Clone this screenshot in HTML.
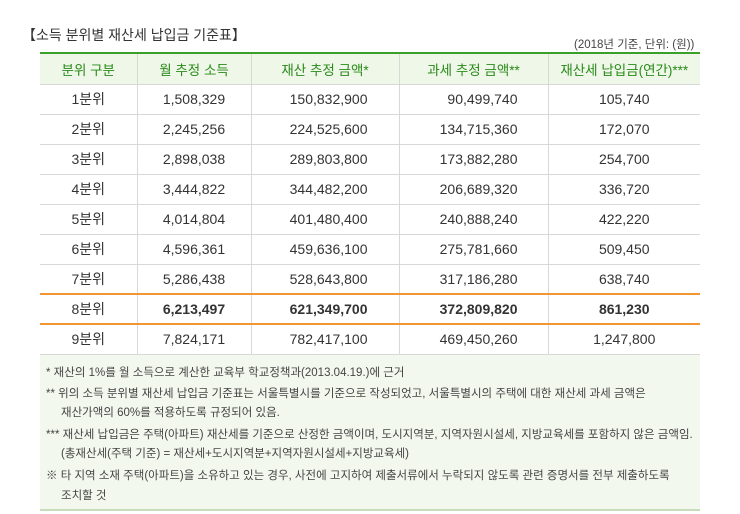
<!DOCTYPE html>
<html><head><meta charset="utf-8"><style>
body{margin:0;width:740px;height:514px;background:#fff;font-family:"Liberation Sans","Noto Sans CJK KR",sans-serif;color:#333;position:relative;overflow:hidden}
.t{position:absolute;white-space:nowrap}
.wrap{position:absolute;left:40px;top:52px;width:660px}
table{width:660px;border-collapse:collapse;table-layout:fixed}
td,th{padding:0;font-size:14px;border-bottom:1px solid #d8d8d8;border-left:1px solid #d8d8d8;box-sizing:border-box}
td:first-child,th:first-child{border-left:none}
th{background:#eef7e8;color:#2a8a1a;font-weight:normal;font-size:13.5px;border-top:2px solid #3aa02a;height:31px}
td{text-align:center;height:30px}
td.r{text-align:right;padding-right:31px}
td.r4{text-align:right;padding-right:30px}
tr.h td{font-weight:bold;border-top:2px solid #f39533;border-bottom:2px solid #f39533}
.n{position:relative;width:660px;height:156px;background:#f3f8ef;border-bottom:2px solid #c6dcbb;box-sizing:border-box}
.n div{position:absolute;left:6px;font-size:11.5px;color:#444;white-space:nowrap}
</style></head><body>
<div class="t" style="left:22px;top:25px;font-size:14px;color:#333">【소득 분위별 재산세 납입금 기준표】</div>
<div class="t" style="left:574px;top:36px;font-size:11.5px;color:#444">(2018년 기준, 단위: (원))</div>
<div class="wrap">
<table>
<colgroup><col style="width:97px"><col style="width:114px"><col style="width:148px"><col style="width:149px"><col style="width:152px"></colgroup>
<tr><th>분위 구분</th><th>월 추정 소득</th><th>재산 추정 금액*</th><th>과세 추정 금액**</th><th>재산세 납입금(연간)***</th></tr>
<tr><td>1분위</td><td>1,508,329</td><td class="r">150,832,900</td><td class="r4">90,499,740</td><td>105,740</td></tr>
<tr><td>2분위</td><td>2,245,256</td><td class="r">224,525,600</td><td class="r4">134,715,360</td><td>172,070</td></tr>
<tr><td>3분위</td><td>2,898,038</td><td class="r">289,803,800</td><td class="r4">173,882,280</td><td>254,700</td></tr>
<tr><td>4분위</td><td>3,444,822</td><td class="r">344,482,200</td><td class="r4">206,689,320</td><td>336,720</td></tr>
<tr><td>5분위</td><td>4,014,804</td><td class="r">401,480,400</td><td class="r4">240,888,240</td><td>422,220</td></tr>
<tr><td>6분위</td><td>4,596,361</td><td class="r">459,636,100</td><td class="r4">275,781,660</td><td>509,450</td></tr>
<tr><td>7분위</td><td>5,286,438</td><td class="r">528,643,800</td><td class="r4">317,186,280</td><td>638,740</td></tr>
<tr class="h"><td style="font-weight:normal">8분위</td><td>6,213,497</td><td class="r">621,349,700</td><td class="r4">372,809,820</td><td>861,230</td></tr>
<tr><td>9분위</td><td>7,824,171</td><td class="r">782,417,100</td><td class="r4">469,450,260</td><td>1,247,800</td></tr>
</table>
<div class="n">
<div style="top:9px">* 재산의 1%를 월 소득으로 계산한 교육부 학교정책과(2013.04.19.)에 근거</div>
<div style="top:30px">** 위의 소득 분위별 재산세 납입금 기준표는 서울특별시를 기준으로 작성되었고, 서울특별시의 주택에 대한 재산세 과세 금액은</div>
<div style="top:49px;left:21px">재산가액의 60%를 적용하도록 규정되어 있음.</div>
<div style="top:71px">*** 재산세 납입금은 주택(아파트) 재산세를 기준으로 산정한 금액이며, 도시지역분, 지역자원시설세, 지방교육세를 포함하지 않은 금액임.</div>
<div style="top:90px;left:21px">(총재산세(주택 기준) = 재산세+도시지역분+지역자원시설세+지방교육세)</div>
<div style="top:112px">※ 타 지역 소재 주택(아파트)을 소유하고 있는 경우, 사전에 고지하여 제출서류에서 누락되지 않도록 관련 증명서를 전부 제출하도록</div>
<div style="top:132px;left:21px">조치할 것</div>
</div>
</div>
</body></html>
